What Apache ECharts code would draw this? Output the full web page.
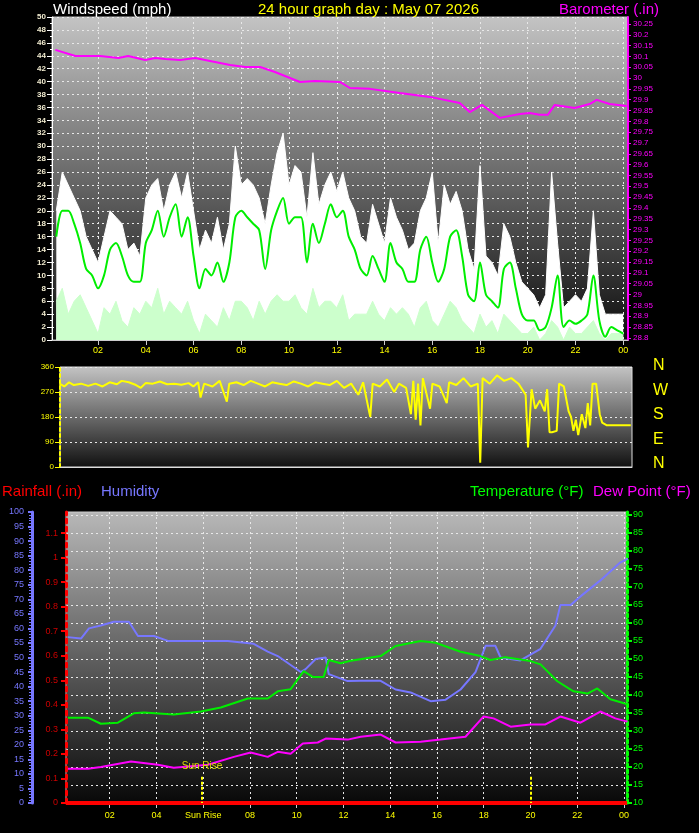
<!DOCTYPE html>
<html>
<head>
<meta charset="utf-8">
<script src="https://cdn.jsdelivr.net/npm/echarts@6/dist/echarts.min.js"></script>
<style>
html, body { margin: 0; padding: 0; background: #000; }
#main { width: 699px; height: 833px; }
</style>
</head>
<body>
<div id="main"></div>
<script>
// wind, sampled every 15 minutes from 00:15 to 24:00 (mph)
var windAvg = [16,20,20,18,15,11,10,8,10,14,15,13,10,9,9,15,17,20,16,19,21,16,19,13,8,11,10,12,9,12,19,20,19,18,17,11,17,20,22,18,19,19,12,18,15,18,21,19,20,16,14,11,10,13,11,9,15,12,11,9,9,14,16,12,9,11,16,17,13,7,6,12,7,6,5,11,12,8,4,3,3,1.5,2,5,10,2,3,2.5,3,4,10,3,0.5,2,1.5,1];
var windGust = [20,26,24,22,20,16,14,12,16,20,19,18,14,15,13,22,24,25,20,24,26,22,26,20,14,17,15,19,14,18,30,24,25,24,22,18,24,29,32,24,27,26,19,29,21,24,26,23,26,22,20,16,15,21,18,15,22,19,17,14,15,20,22,26,15,24,21,23,20,14,11,27,13,12,10,18,16,12,9,8,7,5,7,26,15,5,6,7,6,8,20,7,4,4,4,4];
var windSpeed = [6,8,4,6,7,5,3,1,5,4,6,3,2,5,4,6,5,8,4,6,5,4,6,3,1,4,3,2,5,3,6,6,5,3,6,4,6,7,6,6,7,5,4,8,5,6,6,5,7,3,4,4,4,6,4,3,5,4,5,4,2,5,6,3,2,4,6,5,3,2,1,4,2,3,1,4,3,2,1,1,2,0,1,3,2,0,2,1,1,2,3,1,0,1,1,1];

// [hour, value]
var baro = [[0.21,30.13],[1.05,30.102],[2.09,30.102],[2.85,30.093],[3.26,30.102],[3.97,30.083],[4.39,30.093],[4.81,30.088],[5.44,30.083],[6.07,30.093],[6.69,30.079],[7.53,30.06],[8.16,30.051],[8.79,30.051],[9.41,30.028],[10.46,29.982],[11.09,29.986],[12.13,29.982],[12.55,29.954],[13.39,29.95],[14.64,29.931],[15.9,29.913],[17.15,29.885],[17.57,29.843],[18.08,29.876],[18.83,29.816],[19.67,29.834],[20.08,29.839],[20.5,29.83],[20.84,29.83],[21.13,29.876],[21.97,29.862],[22.59,29.88],[22.89,29.899],[23.43,29.88],[24.14,29.871]];

var windDir = [[0.4,300],[0.6,290],[0.8,305],[1.0,295],[1.3,300],[1.6,292],[1.9,300],[2.2,290],[2.5,305],[2.8,298],[3.0,310],[3.3,305],[3.6,295],[3.8,285],[4.0,302],[4.3,300],[4.6,308],[4.9,298],[5.2,300],[5.5,296],[5.8,302],[6.0,290],[6.2,305],[6.3,250],[6.45,300],[6.8,290],[7.1,310],[7.4,235],[7.5,300],[7.8,305],[8.1,295],[8.4,310],[8.7,300],[9.0,290],[9.3,305],[9.6,300],[9.9,295],[10.2,308],[10.5,300],[10.8,290],[11.1,305],[11.4,300],[11.7,295],[12.0,310],[12.3,285],[12.6,300],[12.9,260],[13.1,305],[13.4,180],[13.5,300],[13.8,290],[14.1,315],[14.4,270],[14.6,300],[14.9,285],[15.1,190],[15.2,310],[15.3,170],[15.4,300],[15.5,150],[15.6,320],[15.9,210],[16.0,300],[16.3,290],[16.6,230],[16.7,305],[17.0,295],[17.3,320],[17.6,290],[17.9,300],[18.0,15],[18.1,320],[18.4,300],[18.7,330],[19.0,310],[19.3,320],[19.6,300],[19.9,260],[20.0,70],[20.15,280],[20.3,210],[20.5,240],[20.7,200],[20.8,280],[20.9,125],[21.0,125],[21.2,130],[21.3,300],[21.5,290],[21.7,200],[21.8,180],[21.9,130],[22.0,170],[22.1,115],[22.25,190],[22.4,140],[22.5,230],[22.6,150],[22.7,300],[22.85,300],[23.0,190],[23.1,160],[23.3,150],[24.3,150]];

var humidity = [[0.21,57],[0.77,56.5],[1.11,60],[1.62,61],[2.18,62.3],[2.82,62.3],[3.21,57.4],[3.89,57.4],[4.49,55.7],[7.05,55.7],[8.16,54.7],[8.76,52],[9.19,50.5],[10.17,45],[10.38,46],[10.81,49.5],[11.24,50],[11.37,44.3],[12.18,41.9],[12.74,42],[13.59,42],[14.23,39],[14.87,38],[15.73,35],[16.37,35.5],[17.01,39],[17.65,45],[18.08,54],[18.5,54],[18.72,50],[19.57,49],[20.43,53],[21.07,61],[21.28,68],[21.71,68],[22.14,71],[22.99,76.5],[23.85,82.7],[24.19,84]];
var temperature = [[0.21,33.7],[1.07,33.7],[1.62,32],[2.35,32.3],[3.03,34.9],[3.46,35.1],[4.74,34.6],[5.9,35.4],[6.75,36.5],[7.91,39],[8.76,39],[9.19,41],[9.74,41.6],[10.3,46.6],[10.68,45],[11.15,45],[11.37,49.7],[11.88,48.8],[12.31,49.5],[13.59,50.8],[14.23,53.6],[15.3,55],[15.94,54.5],[17.01,52],[17.86,50.8],[18.29,49.7],[18.93,50.5],[20.0,49.4],[20.43,48.5],[21.15,43.8],[21.84,41],[22.44,40.4],[22.86,41.8],[23.42,38.8],[24.15,37.4]];
var dewPoint = [[0.21,19.5],[1.07,19.5],[1.62,20],[2.91,21.5],[4.06,20.6],[4.74,19.8],[5.6,20.3],[6.2,20.6],[7.31,22.8],[8.03,24],[8.76,22.8],[9.19,24.2],[9.74,23.7],[10.26,26.5],[10.9,26.8],[11.24,27.9],[12.18,27.6],[12.74,28.4],[13.59,29],[14.23,26.8],[15.3,27],[16.15,27.6],[17.22,28.4],[17.99,34],[18.42,33.5],[19.15,31.2],[20.0,31.8],[20.64,31.8],[21.28,34],[22.14,32.3],[22.99,35.4],[23.63,33.5],[24.15,32.6]];
var rainfall = [[0.13,0],[24.13,0]];

var hourTicks = [2,4,6,8,10,12,14,16,18,20,22,24];
var baroLabels = ['28.8','28.85','28.9','28.95','29','29.05','29.1','29.15','29.2','29.25','29.3','29.35','29.4','29.45','29.5','29.55','29.6','29.65','29.7','29.75','29.8','29.85','29.9','29.95','30','30.05','30.1','30.15','30.2','30.25'];
var baroTicks = baroLabels.map(function (s) { return parseFloat(s); });
var rainTicks = [0,0.1,0.2,0.3,0.4,0.5,0.6,0.7,0.8,0.9,1,1.1];
var tempTicks = [10,15,20,25,30,35,40,45,50,55,60,65,70,75,80,85,90];
var compass = ['N','W','S','E','N'];
var sunrise = 5.95, sunset = 20.0;

var times = windAvg.map(function (v, i) { return 0.25 * (i + 1); });
function pairs(vals) { return vals.map(function (v, i) { return [times[i], v]; }); }
function hourFmt(v) { var h = Math.round(v) % 24; return (h < 10 ? '0' : '') + h; }

var FONT = 'Liberation Sans';
var dots = { show: true, lineStyle: { color: '#e8e8e8', type: [2, 3], width: 1 } };
function bg(top, bottom) {
    return new echarts.graphic.LinearGradient(0, 0, 0, 1, [{ offset: 0, color: top }, { offset: 1, color: bottom }]);
}

var dom = document.getElementById('main');
var myChart = echarts.init(dom);

var titleStyle = { fontFamily: FONT, fontSize: 15, fontWeight: 'normal' };
function ttl(text, left, top, color) {
    return { text: text, left: left, top: top, textStyle: Object.assign({ color: color }, titleStyle) };
}
var option = {
    backgroundColor: '#000',
    animation: false,
    title: [
        ttl('Windspeed (mph)', 48, -3, '#fff'),
        ttl('24 hour graph day : May 07 2026', 253, -3, '#ffff00'),
        ttl('Barometer (.in)', 554, -3, '#ff00ff'),
        ttl('Rainfall (.in)', -3, 479, '#ff0000'),
        ttl('Humidity', 96, 479, '#7777ff'),
        ttl('Temperature (°F)', 465, 479, '#00ff00'),
        ttl('Dew Point (°F)', 588, 479, '#ff00ff')
    ],
    graphic: compass.map(function (c, i) {
        return { type: 'text', left: 653, top: 358 + i * 24.5,
            style: { text: c, fill: '#ffff00', font: '16px ' + FONT } };
    }),
    grid: [
        { left: 52, right: 71, top: 17, bottom: 493, show: true, borderColor: '#bbb', backgroundColor: bg('#c4c4c4', '#0c0c0c') },
        { left: 60, right: 67, top: 367, bottom: 366, show: true, borderColor: '#ddd', backgroundColor: bg('#c4c4c4', '#101010') },
        { left: 66, right: 72, top: 512, bottom: 30, show: true, borderColor: '#ccc', backgroundColor: bg('#b8b8b8', '#080808') }
    ],
    xAxis: [
        { type: 'value', gridIndex: 0, min: 0.07, max: 24.2,
          axisLine: { lineStyle: { color: '#ccc' } },
          axisTick: { customValues: hourTicks, lineStyle: { color: '#ccc' } },
          axisLabel: { customValues: hourTicks, formatter: hourFmt, color: '#ffff00', fontSize: 9, fontFamily: FONT, margin: 6 },
          splitLine: dots },
        { type: 'value', gridIndex: 1, min: 0.42, max: 24.35,
          axisLine: { lineStyle: { color: '#ddd' } }, axisTick: { show: false }, axisLabel: { show: false }, splitLine: { show: false } },
        { type: 'value', gridIndex: 2, min: 0.13, max: 24.13,
          axisLine: { lineStyle: { color: '#ccc', width: 2 } },
          axisTick: { customValues: hourTicks, lineStyle: { color: '#ccc' } },
          axisLabel: { customValues: hourTicks, color: '#ffff00', fontSize: 9, fontFamily: FONT, margin: 8,
              formatter: function (v) { return Math.round(v) === 6 ? 'Sun Rise' : hourFmt(v); } },
          splitLine: dots }
    ],
    yAxis: [
        { type: 'value', gridIndex: 0, min: 0, max: 50, interval: 2,
          axisLine: { show: true, lineStyle: { color: '#fff' } },
          axisTick: { show: true, lineStyle: { color: '#fff' } },
          minorTick: { show: true, splitNumber: 2, length: 2, lineStyle: { color: '#fff' } },
          axisLabel: { color: '#f2ecd0', fontSize: 8, fontWeight: 'bold', fontFamily: FONT, margin: 6 },
          splitLine: dots },
        { type: 'value', gridIndex: 0, position: 'right', min: 28.79, max: 30.282,
          axisLine: { show: true, lineStyle: { color: '#ff00ff', width: 2 } },
          axisTick: { show: true, length: 3, customValues: baroTicks, lineStyle: { color: '#ff00ff' } },
          axisLabel: { customValues: baroTicks, color: '#ff00ff', fontSize: 8, fontFamily: FONT, margin: 5,
              formatter: function (v) { return String(Math.round(v * 100) / 100); } },
          splitLine: { show: false } },
        { type: 'value', gridIndex: 1, min: 0, max: 360, interval: 90,
          axisLine: { show: true, lineStyle: { color: '#ffff00', type: [3, 3], width: 2 } },
          axisTick: { show: true, lineStyle: { color: '#ffff00' } },
          axisLabel: { color: '#ffff00', fontSize: 8, fontFamily: FONT, margin: 6 },
          splitLine: dots },
        { type: 'value', gridIndex: 2, position: 'left', min: 0, max: 1.186,
          axisLine: { show: true, lineStyle: { color: '#ff0000', type: [4, 4], width: 3 } },
          axisTick: { show: true, customValues: rainTicks, lineStyle: { color: '#ff0000', width: 2 } },
          axisLabel: { customValues: rainTicks, color: '#cc0000', fontSize: 9, fontFamily: FONT, margin: 8,
              formatter: function (v) { return String(Math.round(v * 10) / 10); } },
          splitLine: { show: false } },
        { type: 'value', gridIndex: 2, position: 'left', min: 0, max: 100, interval: 5, offset: 34,
          axisLine: { show: true, lineStyle: { color: '#7777ff', width: 3 } },
          axisTick: { show: true, length: 4, lineStyle: { color: '#7777ff', width: 2 } },
          minorTick: { show: true, splitNumber: 5, length: 3, lineStyle: { color: '#7777ff' } },
          axisLabel: { color: '#7777ff', fontSize: 9, fontFamily: FONT, margin: 8 },
          splitLine: { show: false } },
        { type: 'value', gridIndex: 2, position: 'right', min: 10, max: 90.8,
          axisLine: { show: true, lineStyle: { color: '#00ff00', type: [3, 3], width: 3 } },
          axisTick: { show: true, customValues: tempTicks, lineStyle: { color: '#00ff00', width: 2 } },
          axisLabel: { customValues: tempTicks, color: '#00ff00', fontSize: 9, fontFamily: FONT, margin: 6 },
          splitLine: { show: true, customValues: tempTicks, lineStyle: { color: '#e8e8e8', type: [2, 3] } } }
    ],
    series: [
        { name: 'Gust', type: 'line', xAxisIndex: 0, yAxisIndex: 0, data: pairs(windGust), symbol: 'none',
          lineStyle: { color: '#fff', width: 1 }, areaStyle: { color: '#fff', opacity: 1 } },
        { name: 'Speed', type: 'line', xAxisIndex: 0, yAxisIndex: 0, data: pairs(windSpeed), symbol: 'none',
          lineStyle: { color: '#ccffcc', width: 1 }, areaStyle: { color: '#ccffcc', opacity: 1 } },
        { name: 'Average', type: 'line', xAxisIndex: 0, yAxisIndex: 0, data: pairs(windAvg), smooth: 0.3, symbol: 'none',
          lineStyle: { color: '#00ee00', width: 2 } },
        { name: 'Barometer', type: 'line', xAxisIndex: 0, yAxisIndex: 1, data: baro, symbol: 'none',
          lineStyle: { color: '#ff00ff', width: 2 } },
        { name: 'Direction', type: 'line', xAxisIndex: 1, yAxisIndex: 2, data: windDir, symbol: 'none',
          lineStyle: { color: '#ffff00', width: 2 } },
        { name: 'Rainfall', type: 'line', xAxisIndex: 2, yAxisIndex: 3, data: rainfall, symbol: 'none',
          lineStyle: { color: '#ff0000', width: 4 } },
        { name: 'Humidity', type: 'line', xAxisIndex: 2, yAxisIndex: 4, data: humidity, symbol: 'none',
          lineStyle: { color: '#7777ff', width: 2 } },
        { name: 'Temperature', type: 'line', xAxisIndex: 2, yAxisIndex: 5, data: temperature, symbol: 'none',
          lineStyle: { color: '#00ee00', width: 2 },
          markLine: { symbol: 'none', silent: true,
              lineStyle: { color: '#ffff00', type: [3, 2], width: 2 },
              data: [
                  [{ coord: [sunrise, 17.3], label: { show: true, position: 'start', formatter: 'Sun Rise', color: '#dddd00', fontSize: 10, fontFamily: FONT } },
                   { coord: [sunrise, 10] }],
                  [{ coord: [sunset, 17.3], label: { show: false } }, { coord: [sunset, 10] }]
              ] } },
        { name: 'Dew Point', type: 'line', xAxisIndex: 2, yAxisIndex: 5, data: dewPoint, symbol: 'none',
          lineStyle: { color: '#ff00ff', width: 2 } }
    ]
};

if (option && typeof option === "object") {
    myChart.setOption(option, true);
}
</script>
</body>
</html>
